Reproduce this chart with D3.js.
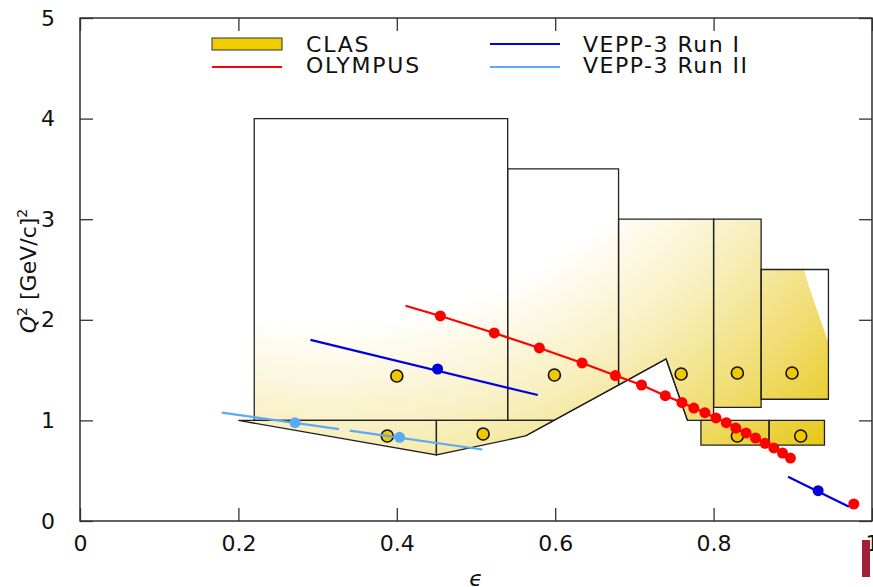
<!DOCTYPE html>
<html><head><meta charset="utf-8">
<script src="https://cdn.jsdelivr.net/npm/d3@7"></script>
<style>
html,body{margin:0;padding:0;background:#fff;overflow:hidden}
svg{display:block}
text{font-family:"DejaVu Sans",sans-serif;fill:#111}
</style></head><body>
<svg id="c" width="873" height="587"></svg>
<script>
// ---------- data ----------
const xTicks = [0, 0.2, 0.4, 0.6, 0.8, 1];
const xTickLabels = ["0", "0.2", "0.4", "0.6", "0.8", "1"];
const yTicks = [0, 1, 2, 3, 4, 5];
const yTickLabels = ["0", "1", "2", "3", "4", "5"];

// CLAS kinematic coverage regions [epsilon, Q^2]
const clasRegionA = [[0.22,1.0],[0.22,4.0],[0.54,4.0],[0.54,1.0]];
const clasRegionL1 = [[0.20,1.0],[0.45,0.656],[0.45,1.0]];
const clasRegionL2 = [[0.45,1.0],[0.45,0.656],[0.5625,0.845],[0.5985,1.0]];
const clasRegionB = [[0.54,1.0],[0.54,3.5],[0.68,3.5],[0.68,1.351],[0.5985,1.0]];
const clasRegionC = [[0.68,1.351],[0.68,3.0],[0.80,3.0],[0.80,1.0],[0.767,1.0],[0.740,1.61]];
const clasRegionD = [[0.80,1.13],[0.80,3.0],[0.86,3.0],[0.86,1.13]];
const clasRegionE = [[0.86,1.21],[0.86,2.5],[0.945,2.5],[0.945,1.21]];
const clasRegionF = [[0.784,0.755],[0.784,1.0],[0.870,1.0],[0.870,0.755]];
const clasRegionG = [[0.870,0.755],[0.870,1.0],[0.940,1.0],[0.940,0.755]];
const clasUncovered = [[0.914,2.5],[0.946,2.5],[0.946,1.75],[0.938,1.93],[0.93,2.11],[0.92,2.34]];
const clasEdge = [[0.5625,0.845],[0.740,1.61],[0.767,1.0]];
const clasPoints = [[0.400,1.441],[0.388,0.845],[0.509,0.865],[0.599,1.451],[0.759,1.461],
                    [0.830,1.471],[0.899,1.471],[0.830,0.845],[0.910,0.845]];

// OLYMPUS
const olympusLineStart = [0.411, 2.14];
const olympusPoints = [[0.455,2.038],[0.523,1.869],[0.580,1.720],[0.634,1.571],[0.676,1.446],
  [0.709,1.352],[0.739,1.246],[0.760,1.178],[0.775,1.123],[0.789,1.077],[0.803,1.024],
  [0.816,0.977],[0.828,0.924],[0.841,0.875],[0.853,0.825],[0.865,0.772],[0.876,0.726],
  [0.887,0.676],[0.897,0.626]];
const olympusExtra = [[0.977,0.169]];

// VEPP-3
const vepp1Lines = [[[0.291,1.80],[0.578,1.252]], [[0.894,0.44],[0.971,0.142]]];
const vepp1Points = [[0.4515,1.511],[0.932,0.301]];
const vepp2Lines = [[[0.179,1.077],[0.327,0.914]], [[0.3405,0.898],[0.508,0.711]]];
const vepp2Points = [[0.2715,0.977],[0.4035,0.832]];

const legendLeft = ["CLAS", "OLYMPUS"];
const legendRight = ["VEPP-3 Run I", "VEPP-3 Run II"];

// ---------- drawing ----------
const svg = d3.select("#c");
const L = 80, R = 872, T = 18, B = 521;
const x = d3.scaleLinear().domain([0,1]).range([L,R]);
const y = d3.scaleLinear().domain([0,5]).range([B,T]);
const line = d3.line().x(d=>x(d[0])).y(d=>y(d[1]));

const defs = svg.append("defs");
const grad = defs.append("radialGradient").attr("id","clasGrad")
  .attr("gradientUnits","userSpaceOnUse")
  .attr("cx", x(0.311)).attr("cy", y(6.15)).attr("r", 750);
grad.append("stop").attr("offset",0).attr("stop-color","#ffffff");
grad.append("stop").attr("offset",0.56).attr("stop-color","#ffffff");
grad.append("stop").attr("offset",0.71).attr("stop-color","#f8efbf");
grad.append("stop").attr("offset",0.85).attr("stop-color","#f0dc70");
grad.append("stop").attr("offset",1).attr("stop-color","#e6c60a");

const regions = [clasRegionA, clasRegionL1, clasRegionL2, clasRegionB, clasRegionC,
                 clasRegionD, clasRegionE, clasRegionF, clasRegionG];
const gReg = svg.append("g");
gReg.selectAll("path.fill").data(regions).join("path").attr("class","fill")
  .attr("d", d => line(d) + "Z").attr("fill","url(#clasGrad)").attr("stroke","none");
gReg.append("path").attr("d", line(clasUncovered)+"Z").attr("fill","#fff");
gReg.selectAll("path.edge").data(regions).join("path").attr("class","edge")
  .attr("d", d => line(d) + "Z").attr("fill","none").attr("stroke","#222").attr("stroke-width",1.3);
gReg.append("path").attr("d", line(clasEdge)).attr("fill","none").attr("stroke","#222").attr("stroke-width",1.3);

// frame & ticks
const gAx = svg.append("g");
gAx.append("rect").attr("x",L).attr("y",T).attr("width",R-L).attr("height",B-T)
  .attr("fill","none").attr("stroke","#222").attr("stroke-width",1.4);
const ax = [
  {axis:d3.axisBottom(x).tickValues(xTicks).tickFormat((d,i)=>xTickLabels[i]).tickSize(-13).tickPadding(14), tr:`translate(0,${B})`},
  {axis:d3.axisTop(x).tickValues(xTicks).tickFormat("").tickSize(-13), tr:`translate(0,${T})`},
  {axis:d3.axisLeft(y).tickValues(yTicks).tickFormat((d,i)=>yTickLabels[i]).tickSize(-13).tickPadding(25), tr:`translate(${L},0)`},
  {axis:d3.axisRight(y).tickValues(yTicks).tickFormat("").tickSize(-13), tr:`translate(${R},0)`}
];
ax.forEach(a=>{
  const g = gAx.append("g").attr("transform",a.tr).call(a.axis);
  g.select(".domain").remove();
  g.selectAll("line").attr("stroke","#333").attr("stroke-width",1.3);
  g.selectAll("text").attr("font-size",22).attr("font-family","DejaVu Sans").attr("fill","#111");
});

// axis titles
const yl = svg.append("text").attr("transform","translate(36,271) rotate(-90)")
  .attr("text-anchor","middle").attr("font-size",22);
yl.append("tspan").attr("font-style","italic").text("Q");
yl.append("tspan").attr("font-size",14).attr("dy",-9).text("2");
yl.append("tspan").attr("dy",9).text(" [GeV/c]");
yl.append("tspan").attr("font-size",14).attr("dy",-9).text("2");
svg.append("text").attr("x",476).attr("y",586).attr("text-anchor","middle")
  .attr("font-size",22).attr("font-style","italic").text("ϵ");

// CLAS points
svg.append("g").selectAll("circle").data(clasPoints).join("circle")
  .attr("cx",d=>x(d[0])).attr("cy",d=>y(d[1])).attr("r",6)
  .attr("fill","#f0c800").attr("stroke","#111").attr("stroke-width",1.6);

// VEPP-3 Run II
const gV2 = svg.append("g");
gV2.selectAll("path").data(vepp2Lines).join("path").attr("d",line)
  .attr("fill","none").attr("stroke","#5aaaf5").attr("stroke-width",2.2);
gV2.selectAll("circle").data(vepp2Points).join("circle")
  .attr("cx",d=>x(d[0])).attr("cy",d=>y(d[1])).attr("r",5.5).attr("fill","#5aaaf5");

// VEPP-3 Run I
const gV1 = svg.append("g");
gV1.selectAll("path").data(vepp1Lines).join("path").attr("d",line)
  .attr("fill","none").attr("stroke","#0000dd").attr("stroke-width",2.2);
gV1.selectAll("circle").data(vepp1Points).join("circle")
  .attr("cx",d=>x(d[0])).attr("cy",d=>y(d[1])).attr("r",5.5).attr("fill","#0000dd");

// OLYMPUS
const gO = svg.append("g");
gO.append("path").attr("d", line([olympusLineStart].concat(olympusPoints)))
  .attr("fill","none").attr("stroke","#ff0000").attr("stroke-width",2.2);
gO.selectAll("circle").data(olympusPoints.concat(olympusExtra)).join("circle")
  .attr("cx",d=>x(d[0])).attr("cy",d=>y(d[1])).attr("r",5.5).attr("fill","#ff0000");

// legend
const lg = svg.append("g");
lg.append("rect").attr("x",212).attr("y",38).attr("width",70).attr("height",12)
  .attr("fill","#f0cc00").attr("stroke","#333").attr("stroke-width",1);
lg.append("line").attr("x1",212).attr("x2",282).attr("y1",67).attr("y2",67)
  .attr("stroke","#ff0000").attr("stroke-width",2.2);
lg.append("line").attr("x1",490).attr("x2",560).attr("y1",44).attr("y2",44)
  .attr("stroke","#0000dd").attr("stroke-width",2.2);
lg.append("line").attr("x1",490).attr("x2",560).attr("y1",67).attr("y2",67)
  .attr("stroke","#5aaaf5").attr("stroke-width",2.2);
lg.selectAll("text.l").data(legendLeft).join("text").attr("class","l")
  .attr("x",306).attr("y",(d,i)=>52+i*21).attr("font-size",22).attr("letter-spacing",1.8).text(d=>d);
lg.selectAll("text.r").data(legendRight).join("text").attr("class","r")
  .attr("x",583).attr("y",(d,i)=>52+i*21).attr("font-size",22).attr("letter-spacing",1.5).text(d=>d);

// page marker at bottom right
svg.append("rect").attr("x",862).attr("y",540).attr("width",8).attr("height",37).attr("fill","#a2203a");
</script>
</body></html>
